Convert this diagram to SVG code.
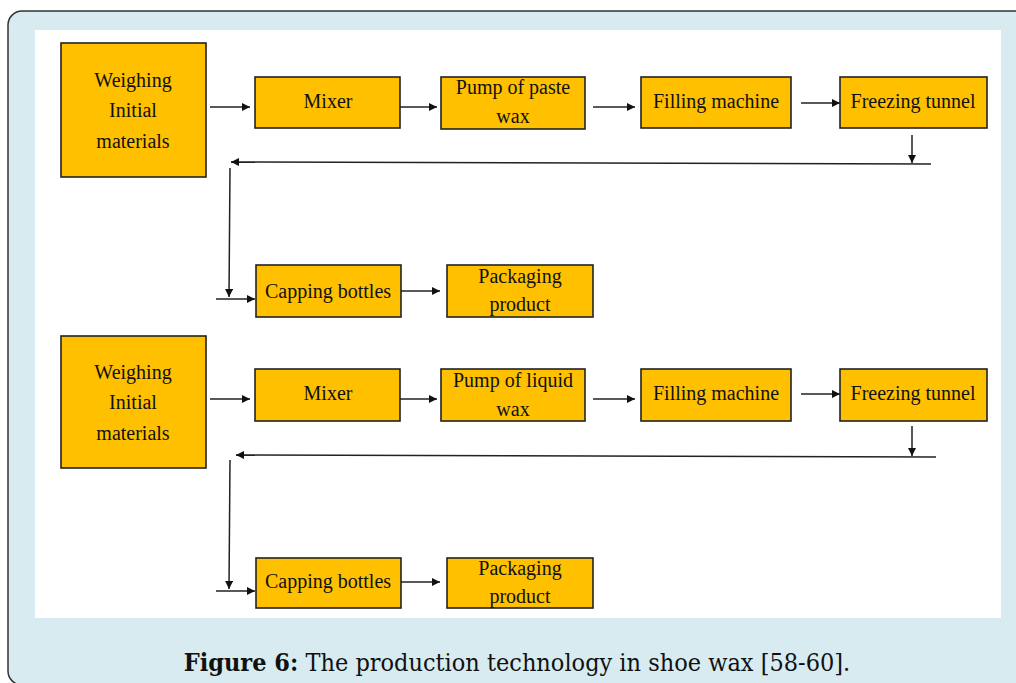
<svg xmlns="http://www.w3.org/2000/svg" width="1016" height="683" viewBox="0 0 1016 683">
<style>
.box{fill:#FFC000;stroke:#222;stroke-width:1.6}
.t{font-family:"Liberation Serif","Times New Roman",serif;font-size:20px;fill:#111;text-anchor:middle}
.c{fill:none;stroke:#222;stroke-width:1.5}
.cap{font-family:"DejaVu Serif Condensed","DejaVu Serif",serif;font-size:25px;fill:#111;text-anchor:middle}
</style>
<defs>
<marker id="ah" viewBox="0 0 10 10" refX="10" refY="5" markerWidth="8" markerHeight="8" markerUnits="userSpaceOnUse" orient="auto">
<path d="M0,0 L10,5 L0,10 z" fill="#111"/>
</marker>
</defs>
<rect x="8" y="11" width="1040" height="674" rx="14" fill="#D7EBF1" stroke="#333" stroke-width="1.5"/>
<rect x="35" y="30" width="966" height="588" fill="#fff"/>

<g id="n1"><rect class="box" x="61" y="43" width="145" height="134"/><text class="t" x="133" y="87">Weighing</text><text class="t" x="133" y="117">Initial</text><text class="t" x="133" y="148">materials</text></g>
<g id="n2"><rect class="box" x="255" y="77" width="145" height="51"/><text class="t" x="328" y="108">Mixer</text></g>
<g id="n3"><rect class="box" x="441" y="77" width="144" height="52"/><text class="t" x="513" y="94">Pump of paste</text><text class="t" x="513" y="123">wax</text></g>
<g id="n4"><rect class="box" x="641" y="77" width="150" height="51"/><text class="t" x="716" y="108">Filling machine</text></g>
<g id="n5"><rect class="box" x="840" y="77" width="147" height="51"/><text class="t" x="913" y="108">Freezing tunnel</text></g>
<g id="n6"><rect class="box" x="256" y="265" width="145" height="52"/><text class="t" x="328" y="298">Capping bottles</text></g>
<g id="n7"><rect class="box" x="447" y="265" width="146" height="52"/><text class="t" x="520" y="283">Packaging</text><text class="t" x="520" y="311">product</text></g>

<g id="m1"><rect class="box" x="61" y="336" width="145" height="132"/><text class="t" x="133" y="379">Weighing</text><text class="t" x="133" y="409">Initial</text><text class="t" x="133" y="440">materials</text></g>
<g id="m2"><rect class="box" x="255" y="369" width="145" height="52"/><text class="t" x="328" y="400">Mixer</text></g>
<g id="m3"><rect class="box" x="441" y="369" width="144" height="52"/><text class="t" x="513" y="387">Pump of liquid</text><text class="t" x="513" y="416">wax</text></g>
<g id="m4"><rect class="box" x="641" y="369" width="150" height="52"/><text class="t" x="716" y="400">Filling machine</text></g>
<g id="m5"><rect class="box" x="840" y="369" width="147" height="52"/><text class="t" x="913" y="400">Freezing tunnel</text></g>
<g id="m6"><rect class="box" x="256" y="558" width="145" height="50"/><text class="t" x="328" y="588">Capping bottles</text></g>
<g id="m7"><rect class="box" x="447" y="558" width="146" height="50"/><text class="t" x="520" y="575">Packaging</text><text class="t" x="520" y="603">product</text></g>

<g id="connectors">
<line class="c" x1="210" y1="107" x2="250" y2="107" marker-end="url(#ah)"/>
<line class="c" x1="400" y1="107" x2="437" y2="107" marker-end="url(#ah)"/>
<line class="c" x1="593" y1="107" x2="635" y2="107" marker-end="url(#ah)"/>
<line class="c" x1="801" y1="103" x2="840" y2="103" marker-end="url(#ah)"/>
<line class="c" x1="912" y1="135" x2="912" y2="163" marker-end="url(#ah)"/>
<line class="c" x1="931" y1="164" x2="231" y2="162" marker-end="url(#ah)"/>
<line class="c" x1="230" y1="168" x2="229" y2="297" marker-end="url(#ah)"/>
<line class="c" x1="216" y1="299" x2="255" y2="299" marker-end="url(#ah)"/>
<line class="c" x1="401" y1="291" x2="440" y2="291" marker-end="url(#ah)"/>

<line class="c" x1="210" y1="399" x2="250" y2="399" marker-end="url(#ah)"/>
<line class="c" x1="400" y1="399" x2="437" y2="399" marker-end="url(#ah)"/>
<line class="c" x1="593" y1="399" x2="635" y2="399" marker-end="url(#ah)"/>
<line class="c" x1="801" y1="394" x2="840" y2="394" marker-end="url(#ah)"/>
<line class="c" x1="912" y1="426" x2="912" y2="456" marker-end="url(#ah)"/>
<line class="c" x1="936" y1="457" x2="236" y2="455" marker-end="url(#ah)"/>
<line class="c" x1="230" y1="460" x2="229" y2="589" marker-end="url(#ah)"/>
<line class="c" x1="216" y1="591" x2="255" y2="591" marker-end="url(#ah)"/>
<line class="c" x1="401" y1="582" x2="440" y2="582" marker-end="url(#ah)"/>
</g>

<text class="cap" x="517" y="671"><tspan font-weight="bold">Figure 6:</tspan> The production technology in shoe wax [58-60].</text>
</svg>
